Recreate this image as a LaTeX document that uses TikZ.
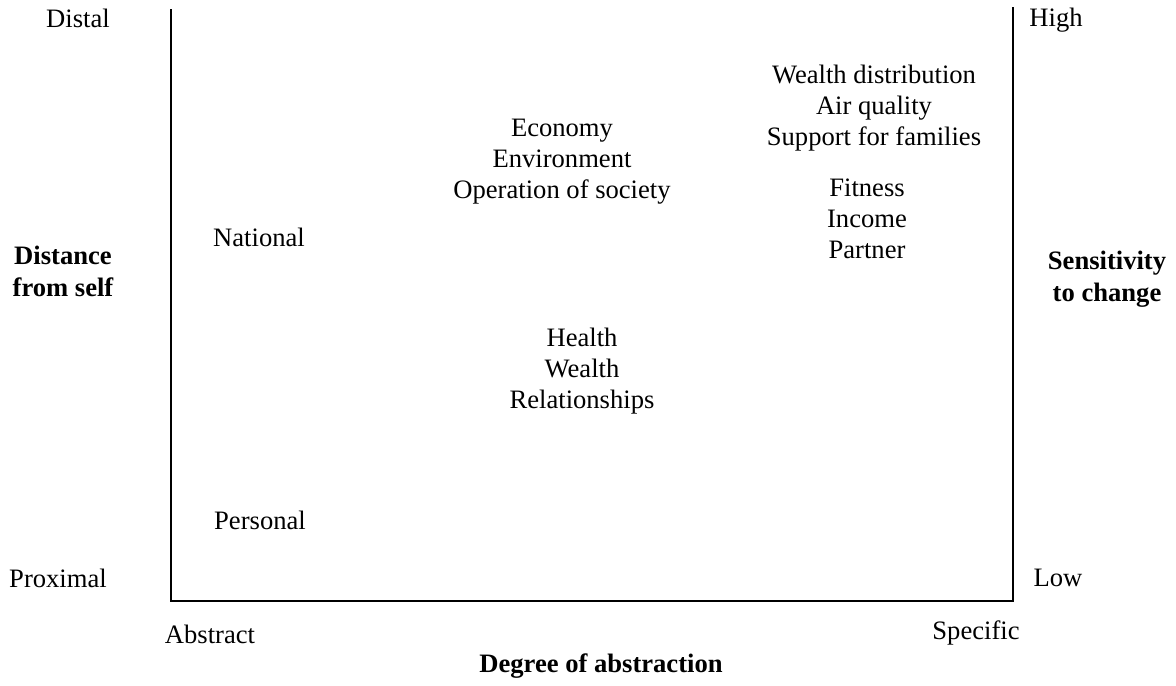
\documentclass[tikz,border=0pt]{standalone}
\usepackage{fontspec}
\setmainfont{Liberation Serif}
\usetikzlibrary{positioning}

\tikzset{
  etiqueta/.style={font=\fontsize{13.3}{15.5}\selectfont, align=center, inner sep=0pt},
  titulo/.style={etiqueta, font=\fontsize{13.3}{16}\selectfont\bfseries},
  eje/.style={line width=1pt}
}

\begin{document}
\begin{tikzpicture}[x=0.5pt,y=-0.5pt]
\useasboundingbox (0,0) rectangle (1176,685);

%esquinas del cuadro
\coordinate (tl) at (171,9);
\coordinate (o) at (171,601);
\coordinate (br) at (1013,601);
\coordinate (tr) at (1013,7);

%lineas de los ejes
\draw [eje] (tl) -- (o) -- (br) -- (tr);

%etiquetas del eje izquierdo
\node [etiqueta] (distal) at (78,18) {Distal};
\node [etiqueta] (proximal) at (58,578) {Proximal};
\node [titulo] (distance) at (63,271) {Distance\\from self};

%etiquetas del eje derecho
\node [etiqueta] (high) at (1056,20) {High};
\node [etiqueta] (low) at (1058,578) {Low};
\node [titulo] (sensitivity) at (1107,279) {Sensitivity\\to change};

%etiquetas del eje x
\node [etiqueta] (abstract) at (210,634) {Abstract};
\node [etiqueta] (specific) at (976,633) {Specific};
\node [titulo] (degree) at (601,666) {Degree of abstraction};

%contenido del cuadro
\node [etiqueta] (national) at (259,237) {National};
\node [etiqueta] (personal) at (260,520) {Personal};
\node [etiqueta] (economy) at (562,162) {Economy\\Environment\\Operation of society};
\node [etiqueta] (wealthdist) at (874,108) {Wealth distribution\\Air quality\\Support for families};
\node [etiqueta] (fitness) at (867,219) {Fitness\\Income\\Partner};
\node [etiqueta] (health) at (582,371) {Health\\Wealth\\Relationships};
\end{tikzpicture}
\end{document}
